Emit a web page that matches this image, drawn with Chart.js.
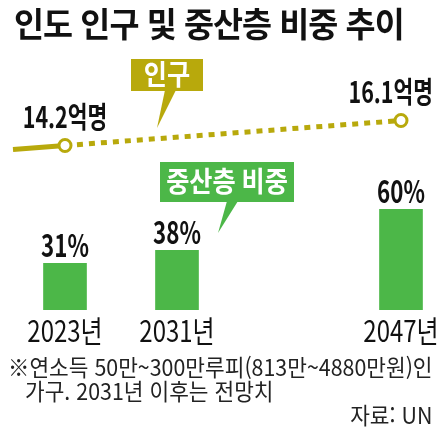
<!DOCTYPE html>
<html lang="ko">
<head>
<meta charset="utf-8">
<script src="https://cdn.jsdelivr.net/npm/chart.js@4"></script>
<style>
  html, body { margin: 0; padding: 0; background: #fff; }
  #wrap { position: relative; width: 439px; height: 436px; overflow: hidden; }
  #chartBox { position: absolute; left: 0; top: 0; width: 439px; height: 436px; }
  .txt { position: absolute; font-family: "Noto Sans CJK KR", "Noto Sans", sans-serif; color: #111; white-space: nowrap; transform-origin: left top; }
  #title { left: 14px; top: 2px; font-size: 34px; font-weight: 700; line-height: 42px; letter-spacing: -1px; transform: scaleX(0.96); }
  #note1 { left: 8px; top: 353px; font-size: 23px; line-height: 26px; transform: scaleX(0.93); color: #222; }
  #note2 { left: 25px; top: 377px; font-size: 23px; line-height: 26px; transform: scaleX(0.93); color: #222; }
  #source { right: 7px; top: 401px; font-size: 23px; line-height: 26px; transform: scaleX(0.93); transform-origin: right top; color: #222; }
</style>
</head>
<body>
<div id="wrap">
  <div id="chartBox"><canvas id="chart"></canvas></div>
  <div class="txt" id="title">인도 인구 및 중산층 비중 추이</div>
  <div class="txt" id="note1">※연소득 50만~300만루피(813만~4880만원)인</div>
  <div class="txt" id="note2">가구. 2031년 이후는 전망치</div>
  <div class="txt" id="source">자료: UN</div>
</div>
<script>
const years = [2023, 2031, 2047];
const yearLabels = ["2023년", "2031년", "2047년"];
const middleShare = [31, 38, 60];
const shareLabels = ["31%", "38%", "60%"];
const popYears = [2023, 2047];
const population = [14.2, 16.1];
const popLabels = ["14.2억명", "16.1억명"];

const olive = "#b8a90c";
const green = "#4cb748";
const font = '"Noto Sans CJK KR", "Noto Sans", sans-serif';

// narrow text like the newspaper font
const drawText = (ctx, text, x, y, size, weight, color, align, sx) => {
  ctx.save();
  ctx.font = weight + " " + size + "px " + font;
  ctx.fillStyle = color;
  ctx.textBaseline = "alphabetic";
  ctx.textAlign = "left";
  const w = ctx.measureText(text).width * sx;
  let left = x;
  if (align === "center") left = x - w / 2;
  if (align === "right") left = x - w;
  ctx.translate(left, y);
  ctx.scale(sx, 1);
  ctx.fillText(text, 0, 0);
  ctx.restore();
  return w;
};

const callout = (ctx, box, tip, base, color, text) => {
  ctx.save();
  ctx.fillStyle = color;
  ctx.fillRect(box.x, box.y, box.w, box.h);
  ctx.beginPath();
  ctx.moveTo(base[0], box.y + box.h - 1);
  ctx.lineTo(base[1], box.y + box.h - 1);
  ctx.lineTo(tip[0], tip[1]);
  ctx.closePath();
  ctx.fill();
  ctx.restore();
  drawText(ctx, text, box.x + box.w / 2, box.y + box.h / 2 + 10, 28, "bold", "#fff", "center", 0.9);
};

const decorations = {
  id: "decorations",
  beforeDatasetsDraw(chart) {
    // solid lead-in of the population line
    const ctx = chart.ctx;
    const pts = chart.getDatasetMeta(0).data;
    const slope = (pts[1].y - pts[0].y) / (pts[1].x - pts[0].x);
    const x0 = chart.chartArea.left + 4;
    ctx.save();
    ctx.strokeStyle = olive;
    ctx.lineWidth = 5;
    ctx.beginPath();
    ctx.moveTo(x0, pts[0].y + slope * (x0 - pts[0].x));
    ctx.lineTo(pts[0].x, pts[0].y);
    ctx.stroke();
    ctx.restore();
  },
  afterDatasetsDraw(chart) {
    const ctx = chart.ctx;
    const xs = chart.scales.x;
    const bars = chart.getDatasetMeta(1).data;
    bars.forEach((b, i) => {
      drawText(ctx, shareLabels[i], b.x, b.y - 6, 31, "bold", "#111", "center", 0.72);
      drawText(ctx, yearLabels[i], xs.getPixelForValue(years[i]), 342, 30, "normal", "#111", "center", 0.8);
    });
    const pts = chart.getDatasetMeta(0).data;
    pts.forEach((p, i) => {
      ctx.save();
      ctx.font = "bold 29px " + font;
      const w = ctx.measureText(popLabels[i]).width * 0.74;
      ctx.restore();
      const cx = Math.min(p.x, chart.width - 6 - w / 2);
      drawText(ctx, popLabels[i], cx, p.y - 18, 29, "bold", "#111", "center", 0.74);
    });
    callout(ctx, { x: 131, y: 59, w: 72, h: 32 }, [157, 128], [165, 176], olive, "인구");
    callout(ctx, { x: 160, y: 162, w: 134, h: 40 }, [218, 233], [227, 238], green, "중산층 비중");
  }
};

const ctx = document.getElementById("chart").getContext("2d");
const indiaChart = new Chart(ctx, {
  type: "bar",
  data: {
    datasets: [
      {
        type: "line",
        data: popYears.map((x, i) => ({ x: x, y: population[i] })),
        yAxisID: "y2",
        borderColor: olive,
        borderWidth: 5,
        borderDash: [6, 6],
        borderCapStyle: "butt",
        pointRadius: 6,
        pointBorderWidth: 3,
        pointBorderColor: olive,
        pointBackgroundColor: "#fff",
        clip: false,
        order: 0,
      },
      {
        type: "bar",
        data: years.map((x, i) => ({ x: x, y: middleShare[i] })),
        yAxisID: "y",
        backgroundColor: green,
        barThickness: 43,
        order: 1,
      },
    ],
  },
  options: {
    responsive: true,
    maintainAspectRatio: false,
    animation: false,
    layout: { padding: { left: 9, right: 10, top: 60, bottom: 126 } },
    scales: {
      x: { type: "linear", min: 2019, max: 2049, offset: false, display: false },
      y: { min: 6, max: 140, display: false },
      y2: { min: 1.7, max: 20.7, display: false },
    },
    plugins: {
      legend: { display: false },
      tooltip: { enabled: false },
    },
  },
  plugins: [decorations],
});
</script>
</body>
</html>
